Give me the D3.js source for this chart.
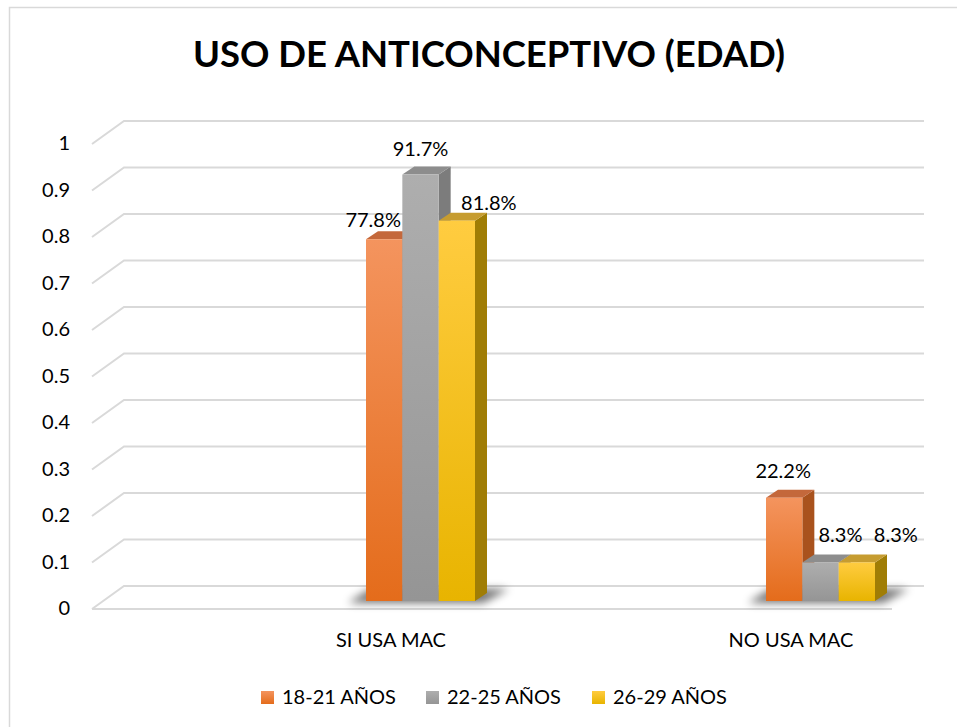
<!DOCTYPE html>
<html>
<head>
<meta charset="utf-8">
<script src="https://cdn.jsdelivr.net/npm/d3@7"></script>
<style>
  body { margin: 0; background: #fff; }
  svg { display: block; font-family: Lato, 'Open Sans', sans-serif; }
</style>
</head>
<body>
<svg width="957" height="727"></svg>
<script>
const categories = ['SI USA MAC', 'NO USA MAC'];
const series = ['18-21 AÑOS', '22-25 AÑOS', '26-29 AÑOS'];
const values1821 = [0.778, 0.222];
const values2225 = [0.917, 0.083];
const values2629 = [0.818, 0.083];
const yTicks = [0, 0.1, 0.2, 0.3, 0.4, 0.5, 0.6, 0.7, 0.8, 0.9, 1];

// label nudges (Excel moves overlapping labels), [category][series] -> [dx, dy]
const labelNudge = [
    [[-11, -12], [0, -19], [32, -11]],
    [[-1, -20], [20, -20], [39, -20]]
];

const seriesValues = [values1821, values2225, values2629];
const colors = [
    { light: '#f4945e', dark: '#e46c1b', side: '#a9521d', top: '#c4683b' },
    { light: '#aeaeae', dark: '#959595', side: '#7c7c7c', top: '#8d8d8d' },
    { light: '#ffcc40', dark: '#e8b400', side: '#a07d05', top: '#c69c30' }
];

const fontSize = 20;

const svg = d3.select('svg');
const defs = svg.append('defs');

colors.forEach((c, i) => {
    const g = defs.append('linearGradient')
        .attr('id', `grad${i}`)
        .attr('x1', 0).attr('y1', 0).attr('x2', 0).attr('y2', 1);
    g.append('stop').attr('offset', '0%').attr('stop-color', c.light);
    g.append('stop').attr('offset', '100%').attr('stop-color', c.dark);
});

defs.append('filter')
    .attr('id', 'blur')
    .attr('x', '-30%').attr('y', '-100%').attr('width', '160%').attr('height', '300%')
    .append('feGaussianBlur')
    .attr('stdDeviation', 4);

// outer border
svg.append('rect')
    .attr('x', 9.5).attr('y', 7.5)
    .attr('width', 980).attr('height', 760)
    .attr('fill', 'none')
    .attr('stroke', '#d9d9d9')
    .attr('stroke-width', 1.5);

// 3d geometry
const depthX = 32, depthY = 23;     // floor depth
const barDX = 12, barDY = 8;        // bar depth
const barInset = 15;                 // bar front plane below back wall

const yScale = d3.scaleLinear()
    .domain([0, 1])
    .range([586, 121]);

const xLeft = 124, xRight = 924;

// gridlines: slanted left wall segment + back wall line
const grid = svg.append('g');
yTicks.forEach((t) => {
    const y = yScale(t);
    grid.append('polyline')
        .attr('points', `${xLeft - depthX},${y + depthY} ${xLeft},${y} ${xRight},${y}`)
        .attr('fill', 'none')
        .attr('stroke', '#d9d9d9')
        .attr('stroke-width', 2);
});
svg.append('line')
    .attr('x1', xLeft - depthX).attr('y1', yScale(0) + depthY)
    .attr('x2', xRight - depthX).attr('y2', yScale(0) + depthY)
    .attr('stroke', '#d9d9d9')
    .attr('stroke-width', 2);

// y tick labels
svg.append('g')
    .selectAll('text')
    .data(yTicks)
    .join('text')
    .attr('x', 70)
    .attr('y', (d) => yScale(d) + depthY + 1)
    .attr('text-anchor', 'end')
    .attr('dominant-baseline', 'middle')
    .attr('font-size', fontSize)
    .attr('fill', '#000')
    .text((d) => d3.format('~g')(d));

const xScale = d3.scalePoint()
    .domain(categories)
    .range([391, 791]);

const inner = d3.scaleBand()
    .domain(series)
    .range([-25, 84]);

// category labels
svg.append('g')
    .selectAll('text')
    .data(categories)
    .join('text')
    .attr('x', (d) => xScale(d))
    .attr('y', 647)
    .attr('text-anchor', 'middle')
    .attr('font-size', fontSize)
    .attr('fill', '#000')
    .text((d) => d);

const barY = (v) => yScale(v) + barInset;
const fmt = d3.format('.1%');

categories.forEach((cat, ci) => {
    const gx0 = xScale(cat) + inner(series[0]);
    const gx1 = xScale(cat) + inner(series[series.length - 1]) + inner.bandwidth();
    const base = barY(0);

    // floor shadow
    svg.append('polygon')
        .attr('points', [
            [gx0 - 18, base + 2], [gx1 + 8, base + 2],
            [gx1 + 34, base - 12], [gx0 + 4, base - 12]
        ].map((p) => p.join(',')).join(' '))
        .attr('fill', '#000')
        .attr('opacity', 0.55)
        .attr('filter', 'url(#blur)');

    series.forEach((s, si) => {
        const v = seriesValues[si][ci];
        const x0 = xScale(cat) + inner(s);
        const x1 = x0 + inner.bandwidth();
        const yt = barY(v);
        const c = colors[si];
        const g = svg.append('g');

        // side
        g.append('polygon')
            .attr('points', `${x1},${yt} ${x1 + barDX},${yt - barDY} ${x1 + barDX},${base - barDY} ${x1},${base}`)
            .attr('fill', c.side);
        // top
        g.append('polygon')
            .attr('points', `${x0},${yt} ${x1},${yt} ${x1 + barDX},${yt - barDY} ${x0 + barDX},${yt - barDY}`)
            .attr('fill', c.top);
        // front
        g.append('rect')
            .attr('x', x0)
            .attr('y', yt)
            .attr('width', x1 - x0)
            .attr('height', base - yt)
            .attr('fill', `url(#grad${si})`);
    });
});

// data labels
categories.forEach((cat, ci) => {
    series.forEach((s, si) => {
        const v = seriesValues[si][ci];
        const cx = xScale(cat) + inner(s) + inner.bandwidth() / 2;
        const [dx, dy] = labelNudge[ci][si];
        svg.append('text')
            .attr('x', cx + dx)
            .attr('y', barY(v) + dy)
            .attr('text-anchor', 'middle')
            .attr('font-size', fontSize)
            .attr('fill', '#000')
            .text(fmt(v));
    });
});

// title
svg.append('text')
    .attr('x', 489)
    .attr('y', 67)
    .attr('text-anchor', 'middle')
    .attr('font-size', 36)
    .attr('font-weight', 'bold')
    .attr('fill', '#000')
    .attr('textLength', 592)
    .attr('lengthAdjust', 'spacingAndGlyphs')
    .text('USO DE ANTICONCEPTIVO (EDAD)');

// legend
const legendX = [261, 426, 592];
const legend = svg.append('g')
    .selectAll('g')
    .data(series)
    .join('g')
    .attr('transform', (d, i) => `translate(${legendX[i]}, 691)`);

legend.append('rect')
    .attr('width', 13)
    .attr('height', 13)
    .attr('fill', (d, i) => `url(#grad${i})`);

legend.append('text')
    .attr('x', 21)
    .attr('y', 13)
    .attr('font-size', fontSize)
    .attr('fill', '#000')
    .text((d) => d);
</script>
</body>
</html>
